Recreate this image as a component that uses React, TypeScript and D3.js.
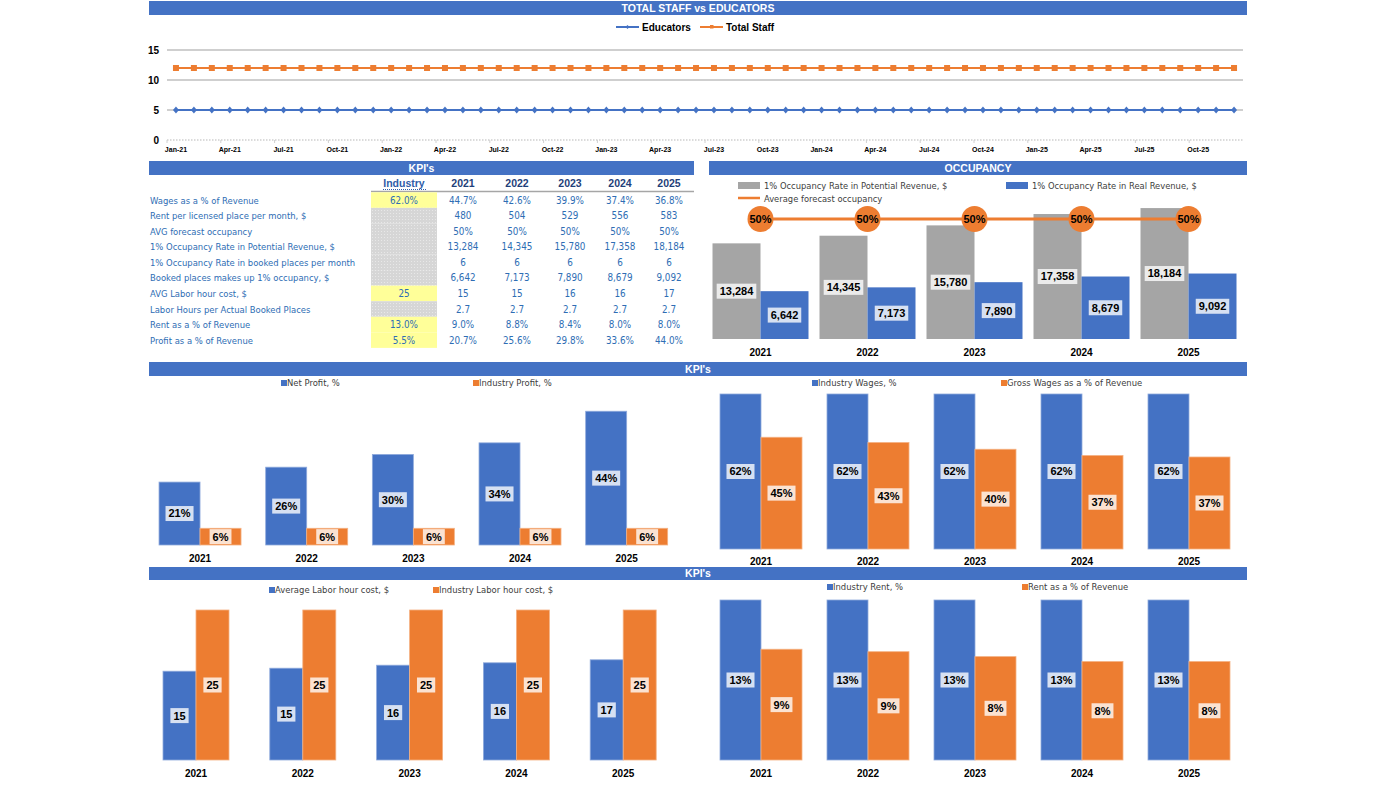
import React from 'react';
import * as d3 from 'd3';

const FONT = "'Liberation Sans', Arial, sans-serif";
const FONT_C = "'DejaVu Sans Condensed', 'DejaVu Sans', sans-serif";
const BLUE = '#4472C4';
const ORANGE = '#ED7D31';
const GRAY = '#A5A5A5';
const TXT_BLUE = '#2E6DB4';

// ---------- Top line chart data ----------
const months = [
  'Jan-21','Feb-21','Mar-21','Apr-21','May-21','Jun-21','Jul-21','Aug-21','Sep-21','Oct-21','Nov-21','Dec-21',
  'Jan-22','Feb-22','Mar-22','Apr-22','May-22','Jun-22','Jul-22','Aug-22','Sep-22','Oct-22','Nov-22','Dec-22',
  'Jan-23','Feb-23','Mar-23','Apr-23','May-23','Jun-23','Jul-23','Aug-23','Sep-23','Oct-23','Nov-23','Dec-23',
  'Jan-24','Feb-24','Mar-24','Apr-24','May-24','Jun-24','Jul-24','Aug-24','Sep-24','Oct-24','Nov-24','Dec-24',
  'Jan-25','Feb-25','Mar-25','Apr-25','May-25','Jun-25','Jul-25','Aug-25','Sep-25','Oct-25','Nov-25','Dec-25',
];
const monthTickLabels = [
  'Jan-21','Apr-21','Jul-21','Oct-21','Jan-22','Apr-22','Jul-22','Oct-22','Jan-23','Apr-23',
  'Jul-23','Oct-23','Jan-24','Apr-24','Jul-24','Oct-24','Jan-25','Apr-25','Jul-25','Oct-25',
];
const educators = [
  5,5,5,5,5,5,5,5,5,5,5,5, 5,5,5,5,5,5,5,5,5,5,5,5, 5,5,5,5,5,5,5,5,5,5,5,5,
  5,5,5,5,5,5,5,5,5,5,5,5, 5,5,5,5,5,5,5,5,5,5,5,5,
];
const totalStaff = [
  12,12,12,12,12,12,12,12,12,12,12,12, 12,12,12,12,12,12,12,12,12,12,12,12,
  12,12,12,12,12,12,12,12,12,12,12,12, 12,12,12,12,12,12,12,12,12,12,12,12,
  12,12,12,12,12,12,12,12,12,12,12,12,
];
const staffTicks = [0, 5, 10, 15];

// ---------- KPI table ----------
const tableYears = ['2021', '2022', '2023', '2024', '2025'];
const tableLabels = [
  'Wages as a % of Revenue',
  'Rent per licensed place per month, $',
  'AVG forecast occupancy',
  '1% Occupancy Rate in Potential Revenue, $',
  '1% Occupancy Rate in booked places per month',
  'Booked places makes up 1% occupancy, $',
  'AVG Labor hour cost, $',
  'Labor Hours per Actual Booked Places',
  'Rent as a % of Revenue',
  'Profit as a % of Revenue',
];
const tableIndustry = ['62.0%', '', '', '', '', '', '25', '', '13.0%', '5.5%'];
const tableValues = [
  ['44.7%', '42.6%', '39.9%', '37.4%', '36.8%'],
  ['480', '504', '529', '556', '583'],
  ['50%', '50%', '50%', '50%', '50%'],
  ['13,284', '14,345', '15,780', '17,358', '18,184'],
  ['6', '6', '6', '6', '6'],
  ['6,642', '7,173', '7,890', '8,679', '9,092'],
  ['15', '15', '16', '16', '17'],
  ['2.7', '2.7', '2.7', '2.7', '2.7'],
  ['9.0%', '8.8%', '8.4%', '8.0%', '8.0%'],
  ['20.7%', '25.6%', '29.8%', '33.6%', '44.0%'],
];

// ---------- Chart data ----------
const years = ['2021', '2022', '2023', '2024', '2025'];
const potentialRevenue = [13284, 14345, 15780, 17358, 18184];
const realRevenue = [6642, 7173, 7890, 8679, 9092];
const avgOccupancy = [0.5, 0.5, 0.5, 0.5, 0.5];

const netProfit = [20.7, 25.6, 29.8, 33.6, 44.0];
const industryProfit = [5.5, 5.5, 5.5, 5.5, 5.5];

const industryWages = [62, 62, 62, 62, 62];
const grossWages = [44.7, 42.6, 39.9, 37.4, 36.8];

const avgLabor = [14.8, 15.3, 15.8, 16.2, 16.7];
const industryLabor = [25, 25, 25, 25, 25];

const industryRent = [13, 13, 13, 13, 13];
const rentPct = [9.0, 8.8, 8.4, 8.0, 8.0];

// ---------- helpers ----------
const charW = (c: string) => {
  if (c === ',' || c === '.') return 0.278;
  if (c === '%') return 0.889;
  return 0.556;
};
const textW = (s: string, fs: number) => s.split('').reduce((a, c) => a + charW(c), 0) * fs;

function LabelBox({ cx, cy, text, fs = 11 }: { cx: number; cy: number; text: string; fs?: number }) {
  const w = textW(text, fs) + 6;
  const h = fs + 4;
  return (
    <g>
      <rect x={cx - w / 2} y={cy - h / 2} width={w} height={h} fill="#ffffff" fillOpacity={0.78} />
      <text x={cx} y={cy + fs * 0.36} textAnchor="middle" fontSize={fs} fontWeight="bold" fill="#000" fontFamily={FONT}>
        {text}
      </text>
    </g>
  );
}

function Banner({ x, y, w, h, title }: { x: number; y: number; w: number; h: number; title: string }) {
  return (
    <g>
      <rect x={x} y={y} width={w} height={h} fill={BLUE} />
      <text x={x + w / 2} y={y + h / 2 + 3.8} textAnchor="middle" fill="#fff" fontWeight="bold" fontSize={10.5} fontFamily={FONT}>
        {title}
      </text>
    </g>
  );
}

type LegendItem = { sx: number; tx: number; label: string; color: string };

function BarPair(props: {
  left: number; right: number; base: number; top: number; max: number; barW: number;
  a: number[]; b: number[]; fmt: (v: number) => string; yearY: number;
  legendY: number; legend: LegendItem[];
}) {
  const { left, right, base, top, max, barW, a, b, fmt, yearY, legendY, legend } = props;
  const x = d3.scaleBand<string>().domain(years).range([left, right]);
  const y = d3.scaleLinear().domain([0, max]).range([base, top]);
  return (
    <g>
      {legend.map((l) => (
        <g key={l.label}>
          <rect x={l.sx} y={legendY - 3} width={6} height={6} fill={l.color} />
          <text x={l.tx} y={legendY + 3.3} fontSize={9.4} fill="#404040" fontFamily={FONT_C} fontStretch="condensed">{l.label}</text>
        </g>
      ))}
      {years.map((yr, i) => {
        const c = (x(yr) as number) + x.bandwidth() / 2;
        const ya = y(a[i]);
        const yb = y(b[i]);
        return (
          <g key={yr}>
            <rect x={c - barW} y={ya} width={barW} height={base - ya} fill={BLUE} stroke="#8FAADC" strokeWidth={0.8} />
            <rect x={c} y={yb} width={barW} height={base - yb} fill={ORANGE} stroke="#F4B183" strokeWidth={0.8} />
            <LabelBox cx={c - barW / 2} cy={(ya + base) / 2} text={fmt(a[i])} />
            <LabelBox cx={c + barW / 2} cy={(yb + base) / 2} text={fmt(b[i])} />
            <text x={c} y={yearY + 3.6} textAnchor="middle" fontSize={10} fontWeight="bold" fill="#000" fontFamily={FONT}>{yr}</text>
          </g>
        );
      })}
    </g>
  );
}

function StaffChart() {
  const x = d3.scaleBand<string>().domain(months).range([167, 1243]);
  const y = d3.scaleLinear().domain([0, 15]).range([140, 50]);
  const cx = (m: string) => (x(m) as number) + x.bandwidth() / 2;
  const line = d3.line<number>().x((_, i) => cx(months[i])).y((d) => y(d));
  return (
    <g>
      <Banner x={149} y={1} w={1098} h={14} title="TOTAL STAFF vs EDUCATORS" />
      {/* legend */}
      <line x1={616} x2={639} y1={27} y2={27} stroke={BLUE} strokeWidth={2} />
      <path d={`M627.5,25 L629.5,27 L627.5,29 L625.5,27 Z`} fill={BLUE} />
      <text x={642} y={30.5} fontSize={10} fontWeight="bold" fontFamily={FONT} fill="#000">Educators</text>
      <line x1={700} x2={723} y1={27} y2={27} stroke={ORANGE} strokeWidth={2} />
      <rect x={710} y={25} width={3.5} height={3.5} fill={ORANGE} />
      <text x={726} y={30.5} fontSize={10} fontWeight="bold" fontFamily={FONT} fill="#000">Total Staff</text>
      {/* grid */}
      {staffTicks.map((t) => (
        <g key={t}>
          {t > 0 ? (
            <line x1={167} x2={1243} y1={y(t)} y2={y(t)} stroke="#BFBFBF" strokeWidth={1.5} />
          ) : (
            <line x1={167} x2={1243} y1={y(t)} y2={y(t)} stroke="#D0D0D0" strokeWidth={1.5} strokeDasharray="1.5,1.5" />
          )}
          <text x={159} y={y(t) + 3.6} textAnchor="end" fontSize={10} fontWeight="bold" fontFamily={FONT} fill="#000">{t}</text>
        </g>
      ))}
      {monthTickLabels.map((m) => (
        <g key={m}>
          <line x1={x(m) as number} x2={x(m) as number} y1={140} y2={143} stroke="#D0D0D0" strokeWidth={1} />
          <text x={cx(m)} y={151.5} textAnchor="middle" fontSize={7} fontWeight="bold" fontFamily={FONT} fill="#000">{m}</text>
        </g>
      ))}
      <path d={line(totalStaff) as string} fill="none" stroke={ORANGE} strokeWidth={2} />
      {totalStaff.map((v, i) => (
        <rect key={i} x={cx(months[i]) - 3} y={y(v) - 3} width={6} height={6} fill={ORANGE} />
      ))}
      <path d={line(educators) as string} fill="none" stroke={BLUE} strokeWidth={2} />
      {educators.map((v, i) => {
        const px = cx(months[i]);
        const py = y(v);
        return <path key={i} d={`M${px},${py - 3.5} L${px + 3},${py} L${px},${py + 3.5} L${px - 3},${py} Z`} fill={BLUE} />;
      })}
    </g>
  );
}

function KpiTable() {
  const colX = [463, 517, 570, 620, 669];
  const rowY0 = 191.5;
  const rowH = 15.56;
  return (
    <g fontFamily={FONT_C} fontStretch="condensed">
      <defs>
        <pattern id="dots" width="3" height="3" patternUnits="userSpaceOnUse">
          <rect width="3" height="3" fill="#D6D6D6" />
          <rect width="1" height="1" fill="#E8E8E8" />
        </pattern>
      </defs>
      <Banner x={149} y={161} w={545} h={14} title="KPI's" />
      <text x={404} y={187} textAnchor="middle" fontSize={10.5} fontWeight="bold" fill="#2F5DA8" fontFamily={FONT}>Industry</text>
      <line x1={383} x2={426} y1={189.5} y2={189.5} stroke="#2F5DA8" strokeWidth={1} strokeDasharray="1,1" />
      {tableYears.map((yr, j) => (
        <text key={yr} x={colX[j]} y={187} textAnchor="middle" fontSize={10.5} fontWeight="bold" fill="#1F3F7A" fontFamily={FONT}>{yr}</text>
      ))}
      <line x1={371} x2={694} y1={191.5} y2={191.5} stroke="#A6A6A6" strokeWidth={1.5} />
      {tableLabels.map((lab, i) => {
        const top = rowY0 + 0.8 + i * rowH;
        const cy = top + rowH / 2;
        const ind = tableIndustry[i];
        return (
          <g key={lab}>
            <rect x={371} y={top} width={66} height={rowH} fill={ind ? '#FFFF99' : 'url(#dots)'} />
            <text x={150} y={cy + 3.6} fontSize={9.4} fill={TXT_BLUE}>{lab}</text>
            {ind && <text x={404} y={cy + 3.6} textAnchor="middle" fontSize={9.8} fill={TXT_BLUE}>{ind}</text>}
            {tableValues[i].map((v, j) => (
              <text key={j} x={colX[j]} y={cy + 3.6} textAnchor="middle" fontSize={9.8} fill={TXT_BLUE}>{v}</text>
            ))}
          </g>
        );
      })}
    </g>
  );
}

function OccupancyChart() {
  const base = 339;
  const top = 195;
  const x = d3.scaleBand<string>().domain(years).range([707, 1242]);
  const y = d3.scaleLinear().domain([0, 20000]).range([base, top]);
  const y2 = d3.scaleLinear().domain([0, 0.6]).range([base, top]);
  const barW = 48;
  const cx = (yr: string) => (x(yr) as number) + x.bandwidth() / 2;
  const line = d3.line<number>().x((_, i) => cx(years[i])).y((d) => y2(d));
  const fmt = d3.format(',');
  return (
    <g fontFamily={FONT}>
      <Banner x={709} y={161} w={538} h={14} title="OCCUPANCY" />
      <g fontFamily={FONT_C} fontStretch="condensed">
        <rect x={738} y={182} width={22} height={7} fill={GRAY} />
        <text x={764} y={188.5} fontSize={9.3} fill="#404040">1% Occupancy Rate in Potential Revenue, $</text>
        <rect x={1006} y={182} width={22} height={7} fill={BLUE} />
        <text x={1032} y={188.5} fontSize={9.3} fill="#404040">1% Occupancy Rate in Real Revenue, $</text>
        <line x1={738} x2={760} y1={198} y2={198} stroke={ORANGE} strokeWidth={2.5} />
        <text x={764} y={201.5} fontSize={9.3} fill="#404040">Average forecast occupancy</text>
      </g>
      {years.map((yr, i) => {
        const c = cx(yr);
        const ya = y(potentialRevenue[i]);
        const yb = y(realRevenue[i]);
        return (
          <g key={yr}>
            <rect x={c - barW} y={ya} width={barW} height={base - ya} fill={GRAY} />
            <rect x={c} y={yb} width={barW} height={base - yb} fill={BLUE} />
            <LabelBox cx={c - barW / 2} cy={(ya + base) / 2} text={fmt(potentialRevenue[i])} />
            <LabelBox cx={c + barW / 2} cy={(yb + base) / 2} text={fmt(realRevenue[i])} />
            <text x={c} y={355.6} textAnchor="middle" fontSize={10} fontWeight="bold" fill="#000">{yr}</text>
          </g>
        );
      })}
      <path d={line(avgOccupancy) as string} fill="none" stroke={ORANGE} strokeWidth={3} />
      {years.map((yr, i) => (
        <g key={yr}>
          <circle cx={cx(yr)} cy={y2(avgOccupancy[i])} r={13} fill={ORANGE} />
          <text x={cx(yr)} y={y2(avgOccupancy[i]) + 4} textAnchor="middle" fontSize={11} fontWeight="bold" fill="#000">
            {d3.format('.0%')(avgOccupancy[i])}
          </text>
        </g>
      ))}
    </g>
  );
}

export default function App() {
  const pct = (v: number) => `${Math.round(v)}%`;
  const num = (v: number) => `${Math.round(v)}`;
  return (
    <svg width={1396} height={786} style={{ position: 'absolute', left: 0, top: 0, background: '#fff' }} fontFamily={FONT}>
      <rect x={0} y={0} width={1396} height={786} fill="#fff" />
      <StaffChart />
      <KpiTable />
      <OccupancyChart />
      <Banner x={149} y={362} w={1098} h={14} title="KPI's" />
      <BarPair
        left={146.7} right={680} base={545} top={393} max={50} barW={41}
        a={netProfit} b={industryProfit} fmt={pct} yearY={558}
        legendY={383}
        legend={[
          { sx: 281, tx: 287, label: 'Net Profit, %', color: BLUE },
          { sx: 473, tx: 479, label: 'Industry Profit, %', color: ORANGE },
        ]}
      />
      <BarPair
        left={707.5} right={1242.5} base={549} top={394} max={62} barW={41}
        a={industryWages} b={grossWages} fmt={pct} yearY={561}
        legendY={383}
        legend={[
          { sx: 812, tx: 818, label: 'Industry Wages, %', color: BLUE },
          { sx: 1001, tx: 1007, label: 'Gross Wages as a % of Revenue', color: ORANGE },
        ]}
      />
      <Banner x={149} y={567} w={1098} h={13} title="KPI's" />
      <BarPair
        left={142.6} right={676.6} base={760} top={610} max={25} barW={33}
        a={avgLabor} b={industryLabor} fmt={num} yearY={773}
        legendY={590}
        legend={[
          { sx: 269, tx: 275, label: 'Average Labor hour cost, $', color: BLUE },
          { sx: 433, tx: 439, label: 'Industry Labor hour cost, $', color: ORANGE },
        ]}
      />
      <BarPair
        left={707.5} right={1242.5} base={760} top={600} max={13} barW={41}
        a={industryRent} b={rentPct} fmt={pct} yearY={773}
        legendY={587}
        legend={[
          { sx: 827, tx: 833, label: 'Industry Rent, %', color: BLUE },
          { sx: 1022, tx: 1028, label: 'Rent as a % of Revenue', color: ORANGE },
        ]}
      />
    </svg>
  );
}
